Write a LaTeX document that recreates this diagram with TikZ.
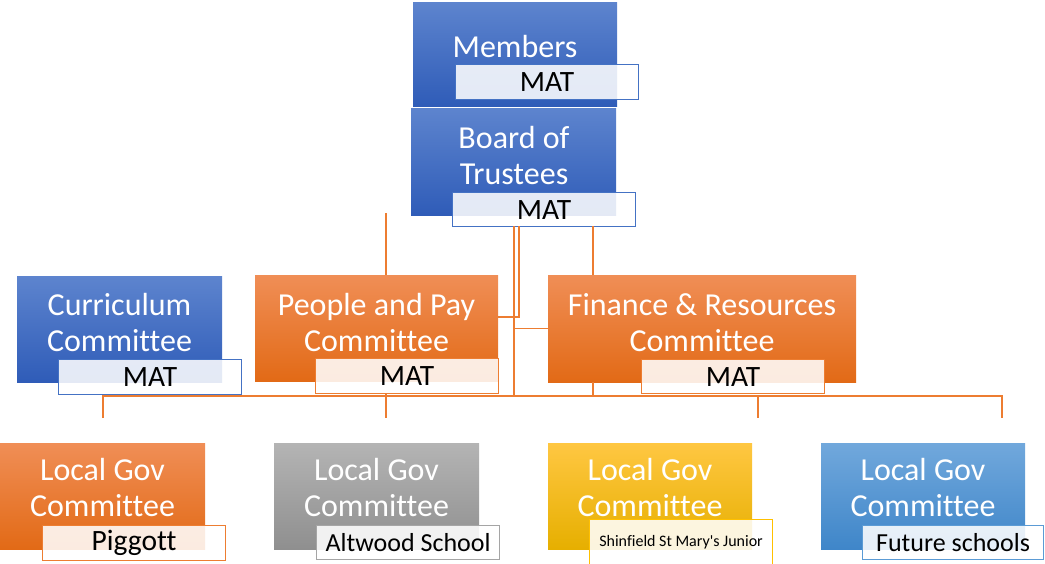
\documentclass[tikz,border=0pt]{standalone}
\usepackage{fontspec}
\setmainfont{Carlito}[Ligatures={CommonOff,ContextualOff}]

\definecolor{bluetop}{RGB}{93,132,206}
\definecolor{bluemid}{RGB}{66,112,200}
\definecolor{bluebot}{RGB}{47,92,184}
\definecolor{bluebd}{RGB}{68,114,196}
\definecolor{orangetop}{RGB}{240,142,86}
\definecolor{orangemid}{RGB}{244,124,38}
\definecolor{orangebot}{RGB}{226,106,22}
\definecolor{orangebd}{RGB}{237,125,49}
\definecolor{greytop}{RGB}{180,180,180}
\definecolor{greybot}{RGB}{143,143,143}
\definecolor{greybd}{RGB}{165,165,165}
\definecolor{yellowtop}{RGB}{255,199,66}
\definecolor{yellowmid}{RGB}{255,193,0}
\definecolor{yellowbot}{RGB}{230,175,0}
\definecolor{yellowbd}{RGB}{255,192,0}
\definecolor{skytop}{RGB}{113,168,220}
\definecolor{skybot}{RGB}{63,134,201}
\definecolor{skybd}{RGB}{91,155,213}

\tikzset{
  box/.style={rectangle, anchor=north west, inner sep=0pt},
  bluebox/.style={box, top color=bluetop, middle color=bluemid, bottom color=bluebot},
  orangebox/.style={box, top color=orangetop, middle color=orangemid, bottom color=orangebot},
  greybox/.style={box, top color=greytop, bottom color=greybot},
  yellowbox/.style={box, top color=yellowtop, middle color=yellowmid, bottom color=yellowbot},
  skybox/.style={box, top color=skytop, bottom color=skybot},
  headtxt/.style={anchor=north, align=center, inner sep=0pt, text=white,
    font=\fontsize{32}{36}\selectfont},
  tag/.style={rectangle, anchor=north west, inner sep=0pt, minimum width=183pt,
    minimum height=35pt, fill=white, fill opacity=0.87, text opacity=1,
    line width=1.2pt, font=\fontsize{29.5}{32}\selectfont},
  smalltag/.style={tag, font=\fontsize{26}{30}\selectfont},
  link/.style={draw=orangebd, line width=1.2pt}
}

\begin{document}
\begin{tikzpicture}[x=1pt,y=-1pt]
  \useasboundingbox (0,0) rectangle (1045,563);

  %% top
  \node[bluebox, minimum width=204pt, minimum height=104pt] (members) at (413,2) {};
  \node[headtxt] (memberstxt) at (515,35) {Members};
  \node[tag, draw=bluebd] (membersmat) at (455,64) {MAT};
  \node[bluebox, minimum width=205pt, minimum height=107pt] (board) at (411,108) {};
  \node[headtxt] (boardtxt) at (514,126) {Board of\\Trustees};
  \node[tag, draw=bluebd, minimum height=34pt] (boardmat) at (452,192) {MAT};

  %% committees
  \node[bluebox, minimum width=205pt, minimum height=106pt] (curric) at (17,276) {};
  \node[headtxt] (currictxt) at (119.5,293) {Curriculum\\Committee};
  \node[tag, draw=bluebd] (curricmat) at (58,359) {MAT};
  \node[orangebox, minimum width=243pt, minimum height=106pt] (people) at (255,275) {};
  \node[headtxt] (peopletxt) at (376.5,293) {People and Pay\\Committee};
  \node[tag, draw=orangebd] (peoplemat) at (315,358) {MAT};
  \node[orangebox, minimum width=308pt, minimum height=107pt] (finance) at (548,275) {};
  \node[headtxt] (financetxt) at (702,293) {Finance \& Resources\\Committee};
  \node[tag, draw=orangebd, minimum height=34pt] (financemat) at (641,359) {MAT};

  %% local governing committees
  \node[orangebox, minimum width=205pt, minimum height=106pt] (lgpiggott) at (0,443) {};
  \node[headtxt] (lgpiggotttxt) at (102.5,458) {Local Gov\\Committee};
  \node[tag, draw=orangebd] (piggott) at (42,525) {Piggott};
  \node[greybox, minimum width=205pt, minimum height=106pt] (lgaltwood) at (274,443) {};
  \node[headtxt] (lgaltwoodtxt) at (376.5,458) {Local Gov\\Committee};
  \node[smalltag, draw=greybd, minimum height=34pt] (altwood) at (316,525) {Altwood School};
  \node[yellowbox, minimum width=204pt, minimum height=106pt] (lgshinfield) at (548,443) {};
  \node[headtxt] (lgshinfieldtxt) at (650,458) {Local Gov\\Committee};
  \node[tag, draw=yellowbd, minimum height=46pt, font=\fontsize{16}{19}\selectfont]
    (shinfield) at (589,519) {Shinfield St Mary\textquotesingle s Junior};
  \node[skybox, minimum width=204pt, minimum height=106pt] (lgfuture) at (821,443) {};
  \node[headtxt] (lgfuturetxt) at (923,458) {Local Gov\\Committee};
  \node[smalltag, draw=skybd, minimum width=181pt, minimum height=34pt] (future) at (862,525) {Future schools};

  %% lines
  \draw[link] (519,226) -- (519,317) -- (498,317);
  \draw[link] (514,226) |- (finance.west);
  \draw[link] (514,328) -- (514,396);
  \draw[link] (593,226) -- (593,275);
  \draw[link] (593,382) -- (593,396);
  \draw[link] (386,213) -- (386,275);
  \draw[link] (386,393) -- (386,418);
  \draw[link] (103,418) -- (103,396) -- (1002,396) -- (1002,418);
  \draw[link] (758,396) -- (758,418);
\end{tikzpicture}
\end{document}
